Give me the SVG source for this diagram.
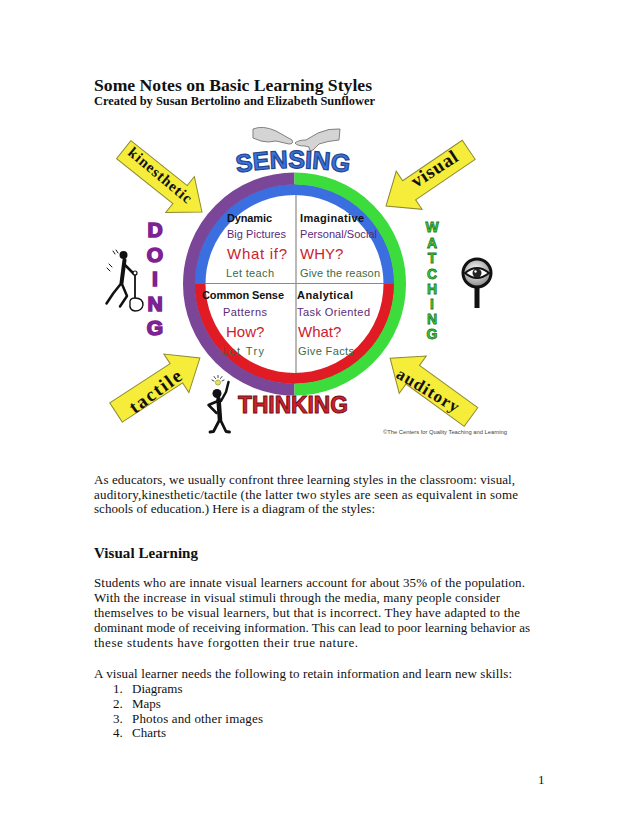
<svg xmlns="http://www.w3.org/2000/svg" width="638" height="826" viewBox="0 0 638 826">
<defs>
<style>
.body{font-family:"Liberation Serif","Times New Roman",serif;font-size:13px;fill:#111}
.hd{font-family:"Liberation Serif","Times New Roman",serif;font-weight:bold;fill:#111}
.q{font-family:"Liberation Sans",Arial,sans-serif}
.qh{font-size:11px;font-weight:bold;fill:#111}
.q2{font-size:11px;fill:#5a2a78}
.q3{font-size:15px;fill:#cc2230}
.q4{font-size:11px;fill:#3b6b45}
.big{font-family:"Liberation Sans",Arial,sans-serif;font-weight:bold}
.arr{fill:#f6ec3a;stroke:#8d8a30;stroke-width:1}
.alab{font-family:"Liberation Serif","Times New Roman",serif;font-weight:bold;fill:#111;text-anchor:middle}
.fig{stroke:#111;stroke-linecap:round;stroke-linejoin:round;fill:none}
.doing{font-size:21px;fill:#7d2290;stroke:#7d2290;stroke-width:1.6;text-anchor:middle}
.watch{font-size:14px;fill:#3fd03f;stroke:#1f7a22;stroke-width:0.8;text-anchor:middle}
.ring{fill:none}
</style>
<path id="arrowShape" d="M0,-11.5 H72 V-23 L100,0 L72,23 V11.5 H0 Z"/>
<radialGradient id="lens" cx="0.45" cy="0.4" r="0.6">
<stop offset="0" stop-color="#ffffff"/>
<stop offset="1" stop-color="#8a8a8a"/>
</radialGradient>
<path id="sensPath" d="M226,175 Q293,161 360,175"/>
</defs>
<rect width="638" height="826" fill="#ffffff"/>

<g id="title">
<text class="hd" x="94" y="91" font-size="17.5" textLength="278" lengthAdjust="spacingAndGlyphs">Some Notes on Basic Learning Styles</text>
<text class="hd" x="94" y="105" font-size="12" textLength="281" lengthAdjust="spacingAndGlyphs">Created by Susan Bertolino and Elizabeth Sunflower</text>
</g>

<g id="hands">
<path d="M253,129 Q263,125 276,131 L292,140 Q294,144 289,144 L276,141 Q268,143 261,141 L253,138 Z" fill="#d4d4d4" stroke="#808080" stroke-width="1"/>
<path d="M340,129 L339,140 Q327,141 319,144 L313,150 Q309,152 309,147 L305,146 Q297,146 295,143 Q298,140 306,140 L318,133 Q329,128 340,129 Z" fill="#d4d4d4" stroke="#808080" stroke-width="1"/>
</g>

<g id="wheel">
<line x1="296" y1="192" x2="296" y2="376" stroke="#8a8a8a" stroke-width="1.2"/>
<line x1="196" y1="283.5" x2="394" y2="283.5" stroke="#8a8a8a" stroke-width="1.2"/>
<path class="ring" d="M200,284 A94.5,94.5 0 0 1 389,284" stroke="#3b6fe0" stroke-width="11"/>
<path class="ring" d="M200,284 A94.5,94.5 0 0 0 389,284" stroke="#e11b23" stroke-width="11"/>
<path class="ring" d="M294.5,178.5 A105.5,105.5 0 0 0 294.5,389.5" stroke="#7b4698" stroke-width="12"/>
<path class="ring" d="M294.5,178.5 A105.5,105.5 0 0 1 294.5,389.5" stroke="#3ddc3d" stroke-width="12"/>
<g class="q">
<text class="qh" x="227" y="222" textLength="45">Dynamic</text>
<text class="q2" x="227" y="238" textLength="59">Big Pictures</text>
<text class="q3" x="227" y="259" textLength="60">What if?</text>
<text class="q4" x="226" y="277" textLength="48">Let teach</text>
<text class="qh" x="300" y="222" textLength="64">Imaginative</text>
<text class="q2" x="300" y="238" textLength="77">Personal/Social</text>
<text class="q3" x="300" y="259">WHY?</text>
<text class="q4" x="300" y="277" textLength="80">Give the reason</text>
<text class="qh" x="202" y="299" textLength="82">Common Sense</text>
<text class="q2" x="223" y="316" textLength="44">Patterns</text>
<text class="q3" x="226" y="337">How?</text>
<text class="q4" x="222" y="355" textLength="42">Let Try</text>
<text class="qh" x="297" y="299" textLength="56">Analytical</text>
<text class="q2" x="297" y="316" textLength="73">Task Oriented</text>
<text class="q3" x="298" y="337">What?</text>
<text class="q4" x="298" y="355" textLength="56">Give Facts</text>
</g>
</g>

<g id="sensing">
<text class="big" font-size="25" fill="#3b74d9" stroke="#1f4592" stroke-width="1.2" text-anchor="middle"><textPath href="#sensPath" startOffset="50%">SENSING</textPath></text>
</g>

<g id="thinking">
<text class="big" x="238" y="413" font-size="24" fill="#d3202c" stroke="#6e1016" stroke-width="1" textLength="110" lengthAdjust="spacingAndGlyphs">THINKING</text>
</g>

<g id="doing" class="big">
<text class="doing" x="155" y="237">D</text>
<text class="doing" x="155" y="261.5">O</text>
<text class="doing" x="155" y="286">I</text>
<text class="doing" x="155" y="311">N</text>
<text class="doing" x="155" y="335">G</text>
</g>

<g id="watching" class="big">
<text class="watch" x="432" y="232">W</text>
<text class="watch" x="432" y="247.5">A</text>
<text class="watch" x="432" y="263">T</text>
<text class="watch" x="432" y="278.5">C</text>
<text class="watch" x="432" y="294">H</text>
<text class="watch" x="432" y="309">I</text>
<text class="watch" x="432" y="323.5">N</text>
<text class="watch" x="432" y="338.5">G</text>
</g>

<g id="connectors">
<use href="#arrowShape" class="arr" transform="translate(123.7,149.7) rotate(38.5)"/>
<use href="#arrowShape" class="arr" transform="translate(468.7,149.8) rotate(145.8)"/>
<use href="#arrowShape" class="arr" transform="translate(116,412.5) rotate(-33)"/>
<use href="#arrowShape" class="arr" transform="translate(471,417) rotate(-144)"/>
<text class="alab" font-size="15" transform="translate(159.5,176) rotate(40)" y="4" textLength="78">kinesthetic</text>
<text class="alab" font-size="19" transform="translate(435,170) rotate(-33)" y="5" textLength="52">visual</text>
<text class="alab" font-size="19" transform="translate(156,392.5) rotate(-36)" y="5" textLength="60">tactile</text>
<text class="alab" font-size="17" transform="translate(427,391.5) rotate(31)" y="4" textLength="70">auditory</text>
</g>

<g id="eye">
<rect x="474.5" y="286" width="5" height="22" fill="#111"/>
<circle cx="477" cy="273" r="14" fill="url(#lens)" stroke="#111" stroke-width="3"/>
<path d="M465,273 Q477,263 489,273 Q477,283 465,273 Z" fill="#ffffff" stroke="#111" stroke-width="2"/>
<circle cx="477" cy="273" r="4.5" fill="#222"/>
<circle cx="475.5" cy="271.5" r="1.2" fill="#ffffff"/>
</g>

<g id="dancer">
<circle cx="123.5" cy="255" r="4" fill="#111"/>
<path class="fig" stroke-width="4" d="M124.5,260 L121.5,283"/>
<path class="fig" stroke-width="2.5" d="M125,265 L134,274"/>
<path class="fig" stroke-width="2.5" d="M121.5,283 L127,296 L120,306.5 M121.5,283 L113.5,293 L106.5,303.5"/>
<path class="fig" stroke-width="1.8" d="M135,274 L135,299"/>
<circle cx="135" cy="273" r="2" fill="#fff" stroke="#111" stroke-width="1.2"/>
<path d="M130,304 Q129,298 135,298 Q143,298 143,305 Q142,311 135,311 Q129,310 130,304 Z" fill="#fff" stroke="#111" stroke-width="1.4"/>
<path class="fig" stroke-width="1" d="M113,251 L115,254 M116,250 L118,253 M107,268 L110,271 M109,264 L112,267"/>
</g>

<g id="thinker">
<circle cx="218" cy="382.5" r="2.6" fill="#e6e35a" stroke="#8a8a30" stroke-width="0.6"/>
<path class="fig" stroke="#b5b040" stroke-width="0.8" d="M212,380 L214,381 M214,376.5 L215.5,378.5 M218,375.5 L218,377.5 M222,376.5 L220.5,378.5 M224,380 L222,381"/>
<circle cx="217" cy="393.5" r="4.5" fill="#111"/>
<path class="fig" stroke-width="4.5" d="M218.5,399 L220,420"/>
<path class="fig" stroke-width="2.5" d="M221,401 L226,392 L228.5,382"/>
<path class="fig" stroke-width="2.5" d="M218,401 L208.5,405 L216.5,413"/>
<path class="fig" stroke-width="2.8" d="M220,419 L213.5,431.5 L210,432 M220,419 L226,431.5 L229.5,432"/>
</g>

<g id="credit">
<text x="383" y="434" font-family="Liberation Sans,Arial,sans-serif" font-size="5.5" fill="#444" textLength="124" lengthAdjust="spacingAndGlyphs">©The Centers for Quality Teaching and Learning</text>
</g>

<g id="bodytext">
<text class="body" x="94" y="484" textLength="421">As educators, we usually confront three learning styles in the classroom: visual,</text>
<text class="body" x="94" y="498.5" textLength="424">auditory,kinesthetic/tactile (the latter two styles are seen as equivalent in some</text>
<text class="body" x="94" y="513" textLength="281">schools of education.) Here is a diagram of the styles:</text>
<text class="hd" x="94" y="558" font-size="15" textLength="104">Visual Learning</text>
<text class="body" x="94" y="587" textLength="431">Students who are innate visual learners account for about 35% of the population.</text>
<text class="body" x="94" y="602" textLength="406">With the increase in visual stimuli through the media, many people consider</text>
<text class="body" x="94" y="617" textLength="426">themselves to be visual learners, but that is incorrect. They have adapted to the</text>
<text class="body" x="94" y="632" textLength="436">dominant mode of receiving information. This can lead to poor learning behavior as</text>
<text class="body" x="94" y="646.5" textLength="264">these students have forgotten their true nature.</text>
<text class="body" x="94" y="678" textLength="418">A visual learner needs the following to retain information and learn new skills:</text>
<text class="body" x="113" y="693">1.</text>
<text class="body" x="132" y="693">Diagrams</text>
<text class="body" x="113" y="708">2.</text>
<text class="body" x="132" y="708">Maps</text>
<text class="body" x="113" y="722.5">3.</text>
<text class="body" x="132" y="722.5" textLength="131">Photos and other images</text>
<text class="body" x="113" y="737">4.</text>
<text class="body" x="132" y="737">Charts</text>
<text class="body" x="538" y="784">1</text>
</g>
</svg>
